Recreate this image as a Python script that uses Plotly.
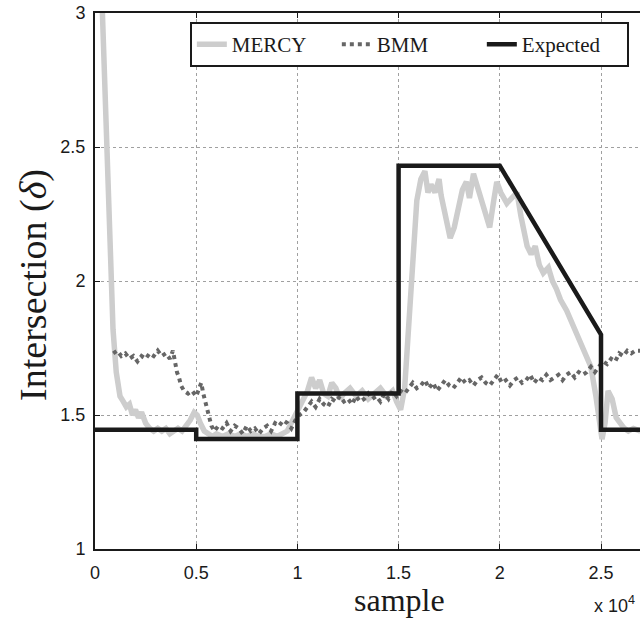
import plotly.graph_objects as go

# ---------------- data ----------------
mercy_x = [100, 350, 640, 890, 1050, 1235, 1400, 1550, 1700, 1850, 2000, 2150, 2300, 2500, 2700,
           2900, 3100, 3300, 3500, 3700, 3900, 4100, 4300, 4500, 4700, 4900, 5050, 5200, 5400,
           5600, 5800, 6000, 6300, 6600, 6900, 7200, 7500, 7800, 8100, 8400, 8700, 9000, 9300,
           9500, 9700, 9900, 10100, 10300, 10500, 10700, 10900, 11100, 11300, 11500, 11700,
           11900, 12100, 12300, 12600, 12900, 13200, 13500, 13800, 14100, 14400, 14700, 14900,
           15100, 15300, 15500, 15700, 15900, 16100, 16300, 16450, 16600, 16800, 17000, 17100,
           17300, 17550, 17750, 17950, 18150, 18350, 18500, 18700, 18900, 19100, 19300, 19500,
           19700, 19850, 20050, 20350, 20600, 20850, 21050, 21350, 21550, 21750, 21950, 22150,
           22400, 22600, 22800, 23000, 23300, 23600, 23950, 24200, 24500, 24750, 24950, 25050,
           25200, 25350, 25550, 25750, 25950, 26150, 26350, 26600, 26950]
mercy_y = [3.60, 3.00, 2.30, 1.82, 1.66, 1.57, 1.55, 1.53, 1.54, 1.50, 1.52, 1.49, 1.51, 1.47, 1.45,
           1.44, 1.45, 1.44, 1.45, 1.43, 1.44, 1.45, 1.44, 1.46, 1.48, 1.51, 1.50, 1.47, 1.44,
           1.43, 1.42, 1.43, 1.42, 1.43, 1.42, 1.43, 1.42, 1.43, 1.42, 1.42, 1.43, 1.42, 1.43,
           1.44, 1.47, 1.50, 1.53, 1.55, 1.59, 1.64, 1.60, 1.63, 1.58, 1.57, 1.62,
           1.60, 1.56, 1.58, 1.60, 1.57, 1.59, 1.56, 1.58, 1.60, 1.57, 1.59, 1.55,
           1.52, 1.60, 1.85, 2.10, 2.30, 2.38, 2.41, 2.33, 2.36, 2.33, 2.38, 2.32,
           2.25, 2.16, 2.20, 2.27, 2.34, 2.37, 2.31, 2.40, 2.35, 2.30, 2.24, 2.20,
           2.30, 2.37, 2.33, 2.29, 2.31, 2.33, 2.24, 2.13, 2.10, 2.13, 2.06, 2.03,
           2.05, 2.00, 1.97, 1.93, 1.89, 1.84, 1.78, 1.73, 1.68, 1.57, 1.48, 1.41,
           1.47, 1.59, 1.56, 1.49, 1.47, 1.45, 1.44, 1.45, 1.44]

bmm_x = [900, 1100, 1300, 1500, 1700, 1900, 2100, 2300, 2500, 2700, 2900, 3100, 3300, 3500, 3700,
         3850, 3950, 4050, 4150, 4250, 4400, 4600, 4800, 5000, 5150, 5250, 5350, 5450, 5550,
         5650, 5750, 5900, 6100, 6300, 6500, 6700, 6900, 7100, 7300, 7500, 7700, 7900, 8100,
         8300, 8500, 8700, 8900, 9100, 9300, 9500, 9700, 9900, 10100, 10300, 10500, 10700,
         10900, 11100, 11300, 11500, 11700, 11900, 12100, 12300, 12500, 12700, 12900, 13100,
         13300, 13500, 13700, 13900, 14100, 14300, 14500, 14700, 14900, 15100, 15300, 15500,
         15700, 15900, 16100, 16300, 16500, 16700, 16900, 17100, 17300, 17500, 17700, 17900,
         18100, 18300, 18500, 18700, 18900, 19100, 19300, 19500, 19700, 19900, 20100, 20300,
         20500, 20700, 20900, 21100, 21300, 21500, 21700, 21900, 22100, 22300, 22500, 22700,
         22900, 23100, 23300, 23500, 23700, 23900, 24100, 24300, 24500, 24700, 24900, 25100,
         25300, 25500, 25700, 25900, 26100, 26300, 26500, 26700, 26950]
bmm_y = [1.73, 1.74, 1.72, 1.73, 1.71, 1.72, 1.70, 1.72, 1.71, 1.73, 1.72, 1.74, 1.72, 1.73, 1.71,
         1.74, 1.70, 1.66, 1.64, 1.61, 1.59, 1.58, 1.59, 1.57, 1.60, 1.62, 1.58, 1.55, 1.51,
         1.49, 1.46, 1.44, 1.46, 1.45, 1.47, 1.44, 1.46, 1.45, 1.43, 1.46, 1.44, 1.45, 1.43,
         1.45, 1.46, 1.44, 1.47, 1.46, 1.48, 1.47, 1.45, 1.48, 1.50, 1.51, 1.53, 1.55,
         1.53, 1.56, 1.54, 1.53, 1.56, 1.55, 1.57, 1.55, 1.56, 1.54, 1.57, 1.55,
         1.56, 1.58, 1.56, 1.57, 1.55, 1.58, 1.56, 1.59, 1.57, 1.59, 1.58, 1.60,
         1.62, 1.60, 1.61, 1.63, 1.60, 1.62, 1.59, 1.61, 1.63, 1.61, 1.60, 1.62,
         1.64, 1.62, 1.63, 1.61, 1.63, 1.64, 1.62, 1.61, 1.63, 1.65, 1.62, 1.63,
         1.61, 1.63, 1.64, 1.62, 1.63, 1.65, 1.62, 1.64, 1.63, 1.65, 1.63, 1.64,
         1.65, 1.63, 1.65, 1.66, 1.64, 1.66, 1.65, 1.66, 1.68, 1.66, 1.68, 1.70,
         1.69, 1.71, 1.70, 1.73, 1.72, 1.74, 1.73, 1.74, 1.74]

expected_x = [0, 5000, 5000, 10000, 10000, 15000, 15000, 20000, 25000, 25000, 26950]
expected_y = [1.445, 1.445, 1.41, 1.41, 1.58, 1.58, 2.43, 2.43, 1.80, 1.445, 1.445]

x_tickvals = [0, 5000, 10000, 15000, 20000, 25000]
x_ticktext = ["0", "0.5", "1", "1.5", "2", "2.5"]
y_tickvals = [1, 1.5, 2, 2.5, 3]
y_ticktext = ["1", "1.5", "2", "2.5", "3"]

# ---------------- figure ----------------
fig = go.Figure()
fig.add_trace(go.Scatter(x=mercy_x, y=mercy_y, mode="lines", name="MERCY",
                         line=dict(color="#cdcdcd", width=5.5)))
fig.add_trace(go.Scatter(x=bmm_x, y=bmm_y, mode="lines", name="BMM",
                         line=dict(color="#666666", width=4, dash="dot")))
fig.add_trace(go.Scatter(x=expected_x, y=expected_y, mode="lines", name="Expected",
                         line=dict(color="#1a1a1a", width=4.5)))

axis_font = dict(family="Liberation Sans, Arial", size=18, color="#1a1a1a")

fig.update_layout(
    width=640, height=621,
    margin=dict(l=95, r=0, t=13, b=72, autoexpand=False),
    paper_bgcolor="white", plot_bgcolor="white",
    showlegend=True,
    legend=dict(orientation="h", x=0.174, xanchor="left", y=0.983, yanchor="top",
                bgcolor="white", bordercolor="#1a1a1a", borderwidth=2,
                font=dict(family="Liberation Serif, Times New Roman", size=21, color="#1a1a1a"),
                entrywidth=100, entrywidthmode="pixels", tracegroupgap=0),
    xaxis=dict(range=[0, 26927], tickvals=x_tickvals, ticktext=x_ticktext,
               showgrid=True, gridcolor="#a0a0a0", griddash="dot", gridwidth=1,
               zeroline=False, showline=True, linecolor="#1a1a1a", linewidth=2,
               mirror="ticks", ticks="inside", ticklen=5, tickcolor="#1a1a1a",
               tickfont=axis_font, ticklabelstandoff=6),
    yaxis=dict(range=[1, 3], tickvals=y_tickvals, ticktext=y_ticktext,
               showgrid=True, gridcolor="#a0a0a0", griddash="dot", gridwidth=1,
               zeroline=False, showline=True, linecolor="#1a1a1a", linewidth=2,
               ticks="inside", ticklen=5, tickcolor="#1a1a1a",
               tickfont=axis_font, ticklabelstandoff=4),
    annotations=[
        dict(text="sample", xref="paper", yref="paper", x=0.558, y=-0.095,
             xanchor="center", yanchor="middle", showarrow=False,
             font=dict(family="Liberation Serif, Times New Roman", size=32, color="#1a1a1a")),
        dict(text="Intersection (<i>δ</i>)", xref="paper", yref="paper", x=-0.114, y=0.4925,
             xanchor="center", yanchor="middle", showarrow=False, textangle=-90,
             font=dict(family="Liberation Serif, Times New Roman", size=38, color="#1a1a1a")),
        dict(text="x 10<sup>4</sup>", xref="paper", yref="paper", x=0.912, y=-0.103,
             xanchor="left", yanchor="middle", showarrow=False,
             font=dict(family="Liberation Sans, Arial", size=18, color="#1a1a1a")),
    ],
)

fig.write_html("out.html")
